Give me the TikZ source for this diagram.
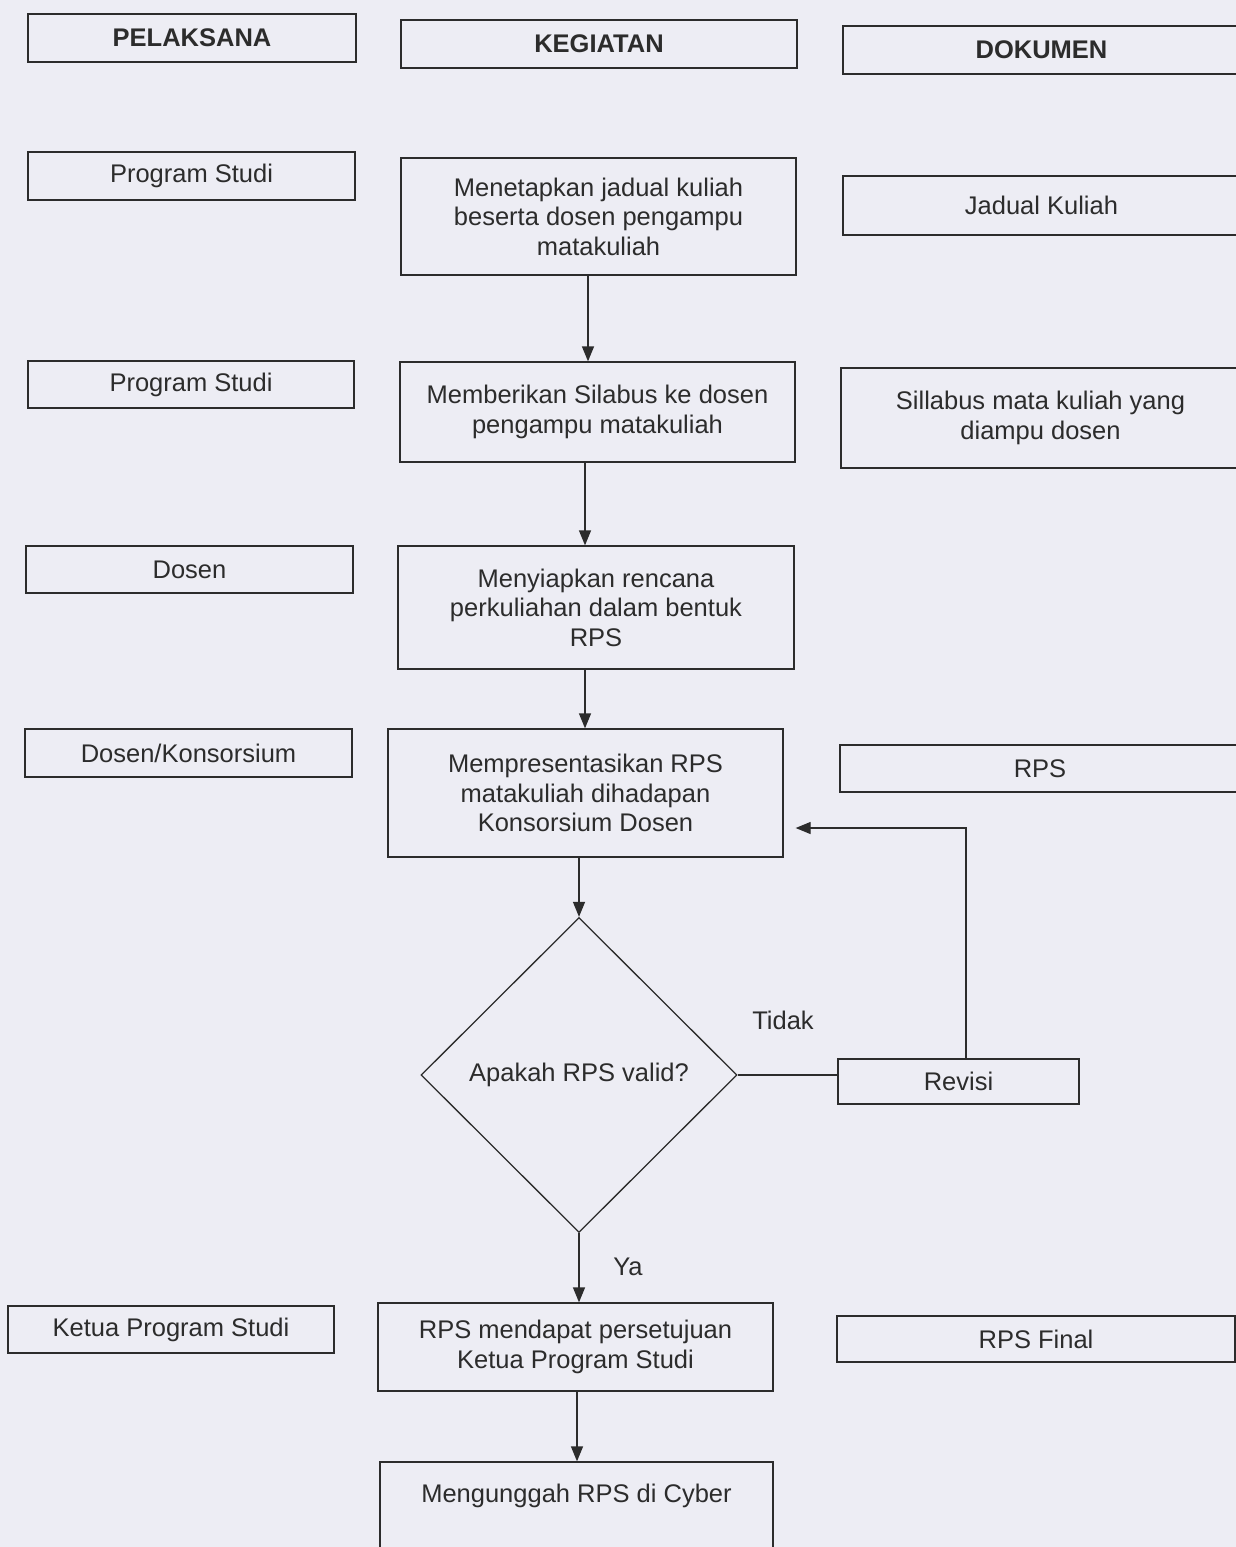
\documentclass[tikz,border=0pt]{standalone}
\usepackage{fontspec}
\setmainfont{Liberation Sans}
\usetikzlibrary{shapes.geometric,arrows.meta}
\definecolor{bgc}{HTML}{EDEDF4}
\definecolor{ink}{HTML}{2C2C2C}
\begin{document}
\begin{tikzpicture}[x=1pt,y=-1pt,
  box/.style={draw=ink,line width=1.3pt,rectangle,inner sep=0pt,align=center,text=ink,
    font=\fontsize{25.5}{29.5}\selectfont},
  hbox/.style={box,font=\fontsize{25.5}{29.5}\selectfont\bfseries},
  lbl/.style={text=ink,font=\fontsize{25.5}{29.5}\selectfont,inner sep=0pt},
  conn/.style={draw=ink,line width=1.3pt},
  arr/.style={conn,-{Triangle[length=15pt,width=12pt]}}]
\useasboundingbox (0,0) rectangle (1236,1547);
\clip (0,0) rectangle (1236,1547);
\fill[bgc] (0,0) rectangle (1236,1547);
% headers
\node[hbox,minimum width=328pt,minimum height=48pt] (pel) at (192,38) {PELAKSANA};
\node[hbox,minimum width=396pt,minimum height=48pt] (keg) at (599,44) {KEGIATAN};
\node[hbox,minimum width=397pt,minimum height=48pt] (dok) at (1041.5,50) {DOKUMEN};
% row 1
\node[box,minimum width=327pt,minimum height=48pt] (ps1) at (191.5,176) {Program Studi};
\node[box,minimum width=395pt,minimum height=117pt] (act1) at (598.5,216.5) {Menetapkan jadual kuliah\\beserta dosen pengampu\\matakuliah};
\node[box,minimum width=397pt,minimum height=59pt] (doc1) at (1041.5,205.5) {Jadual Kuliah};
% row 2
\node[box,minimum width=326pt,minimum height=47pt] (ps2) at (191,384.5) {Program Studi};
\node[box,minimum width=395pt,minimum height=100pt] (act2) at (597.5,412) {Memberikan Silabus ke dosen\\pengampu matakuliah};
\node[box,minimum width=399pt,minimum height=100pt] (doc2) at (1040.5,418) {Sillabus mata kuliah yang\\diampu dosen};
% row 3
\node[box,minimum width=327pt,minimum height=47pt] (dosen) at (189.5,569.5) {Dosen};
\node[box,minimum width=396pt,minimum height=123pt] (act3) at (596,607.5) {Menyiapkan rencana\\perkuliahan dalam bentuk\\RPS};
% row 4
\node[box,minimum width=327pt,minimum height=48pt] (dk) at (188.5,753) {Dosen/Konsorsium};
\node[box,minimum width=395pt,minimum height=128pt] (act4) at (585.5,793) {Mempresentasikan RPS\\matakuliah dihadapan\\Konsorsium Dosen};
\node[box,minimum width=400pt,minimum height=47pt] (rps) at (1040,768.5) {RPS};
% decision
\node[diamond,draw=ink,line width=1.3pt,inner sep=0pt,minimum width=316pt,minimum height=315pt,
  text=ink,font=\fontsize{25.5}{29.5}\selectfont] (dia) at (579,1075) {Apakah RPS valid?};
\node[box,minimum width=241pt,minimum height=45pt] (revisi) at (958.5,1081.5) {Revisi};
\node[lbl] (tidak) at (783,1020) {Tidak};
\node[lbl] (ya) at (628,1267) {Ya};
% row 5
\node[box,minimum width=326pt,minimum height=47pt] (ketua) at (171,1329.5) {Ketua Program Studi};
\node[box,minimum width=395pt,minimum height=88pt] (act5) at (575.5,1347) {RPS mendapat persetujuan\\Ketua Program Studi};
\node[box,minimum width=398pt,minimum height=46pt] (final) at (1036,1339) {RPS Final};
% row 6
\node[box,minimum width=393pt,minimum height=93pt] (act6) at (576.5,1508.5) {Mengunggah RPS di Cyber\\[1pt]\mbox{}};
% connectors
\draw[arr] ([xshift=-10.5pt]act1.south) -- ([xshift=-10.5pt]act1.south |- act2.north);
\draw[arr] ([xshift=-12.5pt]act2.south) -- ([xshift=-12.5pt]act2.south |- act3.north);
\draw[arr] ([xshift=-11pt]act3.south) -- ([xshift=-11pt]act3.south |- act4.north);
\draw[arr] (act4.south -| dia.north) -- (dia.north);
\draw[conn] (dia.east) -- (dia.east -| revisi.west);
\draw[arr] ([xshift=7.5pt]revisi.north) |- ([xshift=12pt,yshift=-35pt]act4.east);
\draw[arr] (dia.south) -- (dia.south |- act5.north);
\draw[arr] ([xshift=1.5pt]act5.south) -- ([xshift=1.5pt]act5.south |- act6.north);
\end{tikzpicture}
\end{document}
